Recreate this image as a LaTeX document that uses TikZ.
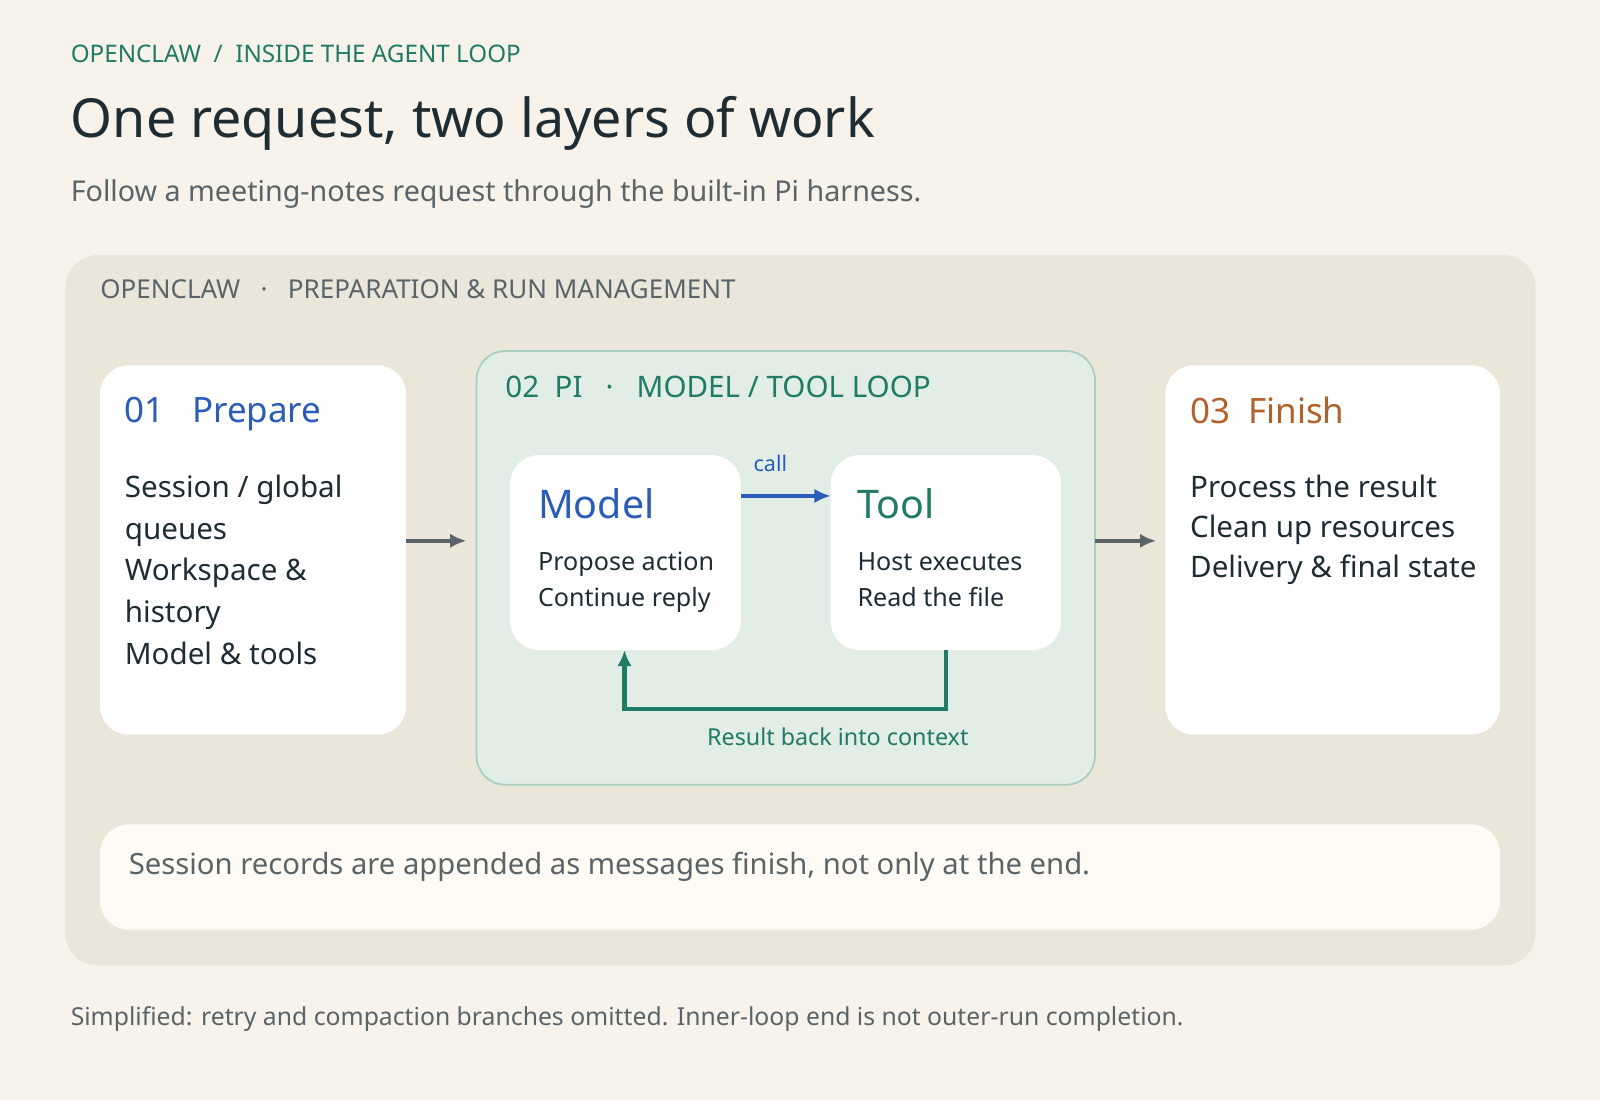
\documentclass[tikz,border=0pt]{standalone}
\usepackage{fontspec}
\setmainfont{Noto Sans}
\usetikzlibrary{positioning,arrows.meta}
\definecolor{bgc}{HTML}{F7F3EA}
\definecolor{panelc}{HTML}{EAE6DA}
\definecolor{greenc}{HTML}{1F7A66}
\definecolor{bluec}{HTML}{2A5CB8}
\definecolor{orangec}{HTML}{B0622A}
\definecolor{darkc}{HTML}{1E2D33}
\definecolor{grayc}{HTML}{5A6468}
\definecolor{loopc}{HTML}{E2EDE6}
\definecolor{loopline}{HTML}{A8CFC0}
\definecolor{notec}{HTML}{FDFBF4}
\tikzset{
  card/.style={fill=white, rounded corners=16pt, draw=none},
  txt/.style={anchor=north west, inner sep=0pt, align=left},
  flow/.style={line width=2.2pt, -{Latex[length=9pt,width=8pt]}}
}
\begin{document}
\begin{tikzpicture}[x=0.02cm,y=-0.02cm]
\useasboundingbox[fill=bgc] (0,0) rectangle (1568,1078);
% header
\node (kicker) [txt, text=greenc, font=\fontsize{13.5}{16}\selectfont] at (69,44) {OPENCLAW \ / \ INSIDE THE AGENT LOOP};
\node (title) [txt, text=darkc, font=\fontsize{30}{36}\selectfont] at (69,94) {One request, two layers of work};
\node (sub) [txt, text=grayc, font=\fontsize{16}{19}\selectfont] at (69,176) {Follow a meeting-notes request through the built-in Pi harness.};
% outer panel
\fill[panelc, rounded corners=18pt] (64,250) rectangle (1505,946);
\node (outer) [txt, text=grayc, font=\fontsize{14.5}{17}\selectfont] at (98,274) {OPENCLAW \ \ · \ \ PREPARATION \& RUN MANAGEMENT};
% cards
\fill[card] (98,358) rectangle (398,720);
\node (prep) [txt, text=bluec, font=\fontsize{19.5}{23}\selectfont] at (122,389) {01\ \ \ Prepare};
\node (prepbody) [txt, text=darkc, font=\fontsize{16.5}{23.3}\selectfont] at (122,465) {Session / global\\queues\\Workspace \&\\history\\Model \& tools};
\draw[fill=loopc, draw=loopline, line width=1pt, rounded corners=16pt] (467,344) rectangle (1073,769);
\node (pi) [txt, text=greenc, font=\fontsize{16.5}{20}\selectfont] at (495,368) {02\ \ PI \ \ · \ \ MODEL / TOOL LOOP};
\fill[card] (500,446) rectangle (726,637);
\node (model) [txt, text=bluec, font=\fontsize{22}{26}\selectfont] at (527,478) {Model};
\node (modelbody) [txt, text=darkc, font=\fontsize{14}{20}\selectfont] at (527,541) {Propose action\\Continue reply};
\fill[card] (814,446) rectangle (1040,637);
\node (tool) [txt, text=greenc, font=\fontsize{22}{26}\selectfont] at (840,478) {Tool};
\node (toolbody) [txt, text=darkc, font=\fontsize{14}{20}\selectfont] at (840,541) {Host executes\\Read the file};
\fill[card] (1142,358) rectangle (1470,720);
\node (fin) [txt, text=orangec, font=\fontsize{19.5}{23}\selectfont] at (1166,389) {03\ \ Finish};
\node (finbody) [txt, text=darkc, font=\fontsize{16.5}{22.3}\selectfont] at (1166,465) {Process the result\\Clean up resources\\Delivery \& final state};
% connectors
\coordinate (mR) at (726,486); \coordinate (tL) at (814,486);
\draw[flow, bluec, line width=2.5pt] (mR) -- (tL);
\node (call) [text=bluec, font=\fontsize{12}{14}\selectfont] at (755,454) {call};
\coordinate (tB) at (927,637); \coordinate (mB) at (612,637);
\draw[flow, greenc, line width=2.5pt] (tB) -- (927,695) -- (612,695) -- (mB);
\node (back) [text=greenc, font=\fontsize{13}{16}\selectfont] at (821,722) {Result back into context};
\coordinate (pR) at (398,530); \coordinate (lL) at (457,530);
\draw[flow, grayc] (pR) -- (lL);
\coordinate (lR) at (1073,530); \coordinate (fL) at (1133,530);
\draw[flow, grayc] (lR) -- (fL);
% note
\fill[notec, rounded corners=16pt] (98,808) rectangle (1470,911);
\node (note) [txt, text=grayc, font=\fontsize{16.3}{19}\selectfont] at (126,835) {Session records are appended as messages finish, not only at the end.};
\node (foot) [txt, text=grayc, font=\fontsize{13.8}{16}\selectfont] at (69,986) {Simplified: retry and compaction branches omitted. Inner-loop end is not outer-run completion.};
\end{tikzpicture}
\end{document}
